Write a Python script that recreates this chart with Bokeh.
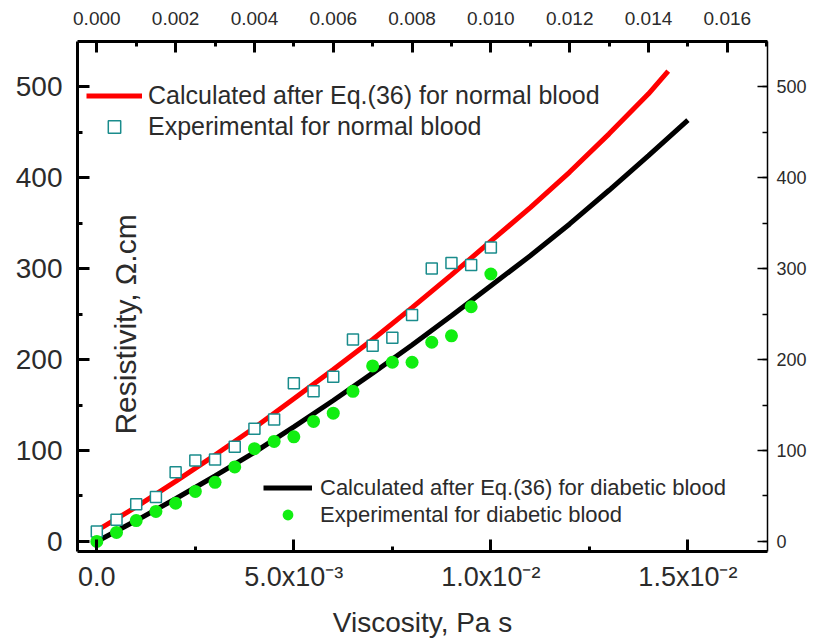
import math
from bokeh.plotting import figure
from bokeh.models import (LinearAxis, Range1d, SingleIntervalTicker, FixedTicker,
                          PrintfTickFormatter, Legend, LegendItem, Label)
from bokeh.embed import file_html
from bokeh.resources import INLINE

# ---------------- data ----------------
exp_viscosity = [0.0, 0.0005, 0.001, 0.0015, 0.002, 0.0025, 0.003, 0.0035, 0.004, 0.0045,
                 0.005, 0.0055, 0.006, 0.0065, 0.007, 0.0075, 0.008, 0.0085, 0.009, 0.0095, 0.01]
normal_exp = [11, 24, 41, 49, 76, 89, 90, 104, 124, 134,
              174, 165, 181, 222, 215, 224, 249, 300, 306, 304, 323]
diabetic_exp = [0, 10, 23, 33, 42, 55, 65, 82, 102, 110,
                115, 132, 141, 165, 193, 197, 197, 219, 226, 258, 294]

calc_viscosity_normal = [0.0, 0.001, 0.002, 0.003, 0.004, 0.005, 0.006, 0.007, 0.008,
                         0.009, 0.010, 0.011, 0.012, 0.013, 0.014, 0.0145]
normal_calc = [12, 38, 66, 95, 125, 157, 189, 222, 257, 293, 330, 367, 406, 448, 492, 517]

calc_viscosity_diabetic = [0.0, 0.001, 0.002, 0.003, 0.004, 0.005, 0.006, 0.007, 0.008,
                           0.009, 0.010, 0.011, 0.012, 0.013, 0.014, 0.015]
diabetic_calc = [0, 23, 47, 72, 98, 126, 155, 185, 216, 248, 281, 314, 349, 386, 424, 463]

bottom_tick_values = [0.0, 0.005, 0.01, 0.015]
bottom_tick_labels = ["0.0", "5.0x10\u207b\u00b3", "1.0x10\u207b\u00b2", "1.5x10\u207b\u00b2"]
bottom_minor_ticks = [0.0025, 0.0075, 0.0125]

labels_text = ["Calculated after Eq.(36) for normal blood",
               "Experimental for normal blood",
               "Calculated after Eq.(36) for diabetic blood",
               "Experimental for diabetic blood"]

FONT = "Liberation Sans"
TXT = "#2b2b2b"

p = figure(width=814, height=643,
           x_range=Range1d(-0.00049, 0.01702), y_range=Range1d(-11, 549.5),
           output_backend="svg", toolbar_location=None,
           x_axis_location=None, y_axis_location=None,
           min_border_left=77, min_border_right=47, min_border_top=41, min_border_bottom=92)
p.outline_line_color = None
p.background_fill_color = "white"
p.border_fill_color = "white"
p.xgrid.visible = False
p.ygrid.visible = False

def style_axis(ax, lw, font_size, major_in, minor_in, standoff):
    ax.axis_line_width = lw
    ax.axis_line_color = "black"
    ax.major_tick_line_width = lw
    ax.minor_tick_line_width = lw
    ax.major_tick_in = major_in
    ax.major_tick_out = 0
    ax.minor_tick_in = minor_in
    ax.minor_tick_out = 0
    ax.major_label_text_font = FONT
    ax.major_label_text_font_size = font_size
    ax.major_label_text_color = TXT
    ax.major_label_standoff = standoff

# bottom axis
bottom = LinearAxis(ticker=FixedTicker(ticks=bottom_tick_values, minor_ticks=bottom_minor_ticks))
bottom.major_label_overrides = dict(zip(bottom_tick_values, bottom_tick_labels))
style_axis(bottom, 3, "27px", 12, 5, 10)
bottom.axis_label = "Viscosity, Pa s"
bottom.axis_label_text_font = FONT
bottom.axis_label_text_font_size = "28px"
bottom.axis_label_text_font_style = "normal"
bottom.axis_label_text_color = TXT
bottom.axis_label_standoff = 12
p.add_layout(bottom, "below")

# top axis
top = LinearAxis(ticker=SingleIntervalTicker(interval=0.002, num_minor_ticks=2),
                 formatter=PrintfTickFormatter(format="%.3f"))
style_axis(top, 3, "19px", 11, 5, 17)
p.add_layout(top, "above")

# left axis
left = LinearAxis(ticker=SingleIntervalTicker(interval=100, num_minor_ticks=2))
style_axis(left, 3, "28px", 12, 5, 15)
p.add_layout(left, "left")

# right axis
right = LinearAxis(ticker=SingleIntervalTicker(interval=100, num_minor_ticks=2))
style_axis(right, 1.5, "18px", 10, 5, 9)
p.add_layout(right, "right")

# curves
r_red = p.line(calc_viscosity_normal, normal_calc, line_color="#ff0000", line_width=5)
r_black = p.line(calc_viscosity_diabetic, diabetic_calc, line_color="black", line_width=5)
r_sq = p.scatter(exp_viscosity, normal_exp, marker="square", size=11,
                 line_color="#1a8c8c", line_width=1.5, fill_color="white")
r_dot = p.scatter(exp_viscosity, diabetic_exp, marker="circle", size=13,
                  line_color=None, fill_color="#11ee11")

def make_legend(items, loc, glyph_w, row_h, fsize, standoff):
    lg = Legend(items=items, location=loc)
    lg.glyph_width = glyph_w
    lg.glyph_height = row_h
    lg.label_height = row_h
    lg.label_standoff = standoff
    lg.spacing = 0
    lg.padding = 0
    lg.margin = 0
    lg.border_line_alpha = 0
    lg.background_fill_alpha = 0
    lg.label_text_font = FONT
    lg.label_text_font_size = fsize
    lg.label_text_color = TXT
    return lg

leg1 = make_legend([LegendItem(label=labels_text[0], renderers=[r_red]),
                    LegendItem(label=labels_text[1], renderers=[r_sq])],
                   (9, 409), 56, 31, "25px", 6)
leg2 = make_legend([LegendItem(label=labels_text[2], renderers=[r_black]),
                    LegendItem(label=labels_text[3], renderers=[r_dot])],
                   (186, 23), 49, 27, "22px", 8)
p.add_layout(leg1)
p.add_layout(leg2)

ylab = Label(x=0.000728, y=238.5, text="Resistivity, \u03a9.cm", angle=math.pi / 2,
             text_align="center", text_baseline="alphabetic",
             text_font=FONT, text_font_size="30px", text_color=TXT)
p.add_layout(ylab)

open("out.html", "w").write(file_html(p, INLINE))
